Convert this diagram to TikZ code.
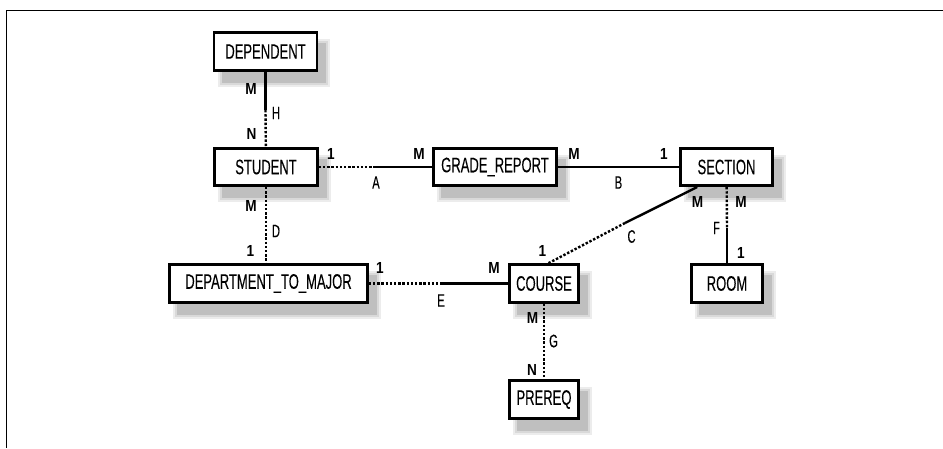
\documentclass[tikz,border=0pt]{standalone}
\usepackage{fontspec}
\setmainfont{Liberation Sans}[FakeStretch=0.62, FakeBold=0.15]
\newfontfamily\cardfont{Liberation Sans}[FakeStretch=0.85]
\usepackage{tikz}
\usetikzlibrary{positioning, calc, backgrounds}

\tikzset{
  entity/.style={draw, line width=2.6pt, fill=white, minimum height=37.5pt, inner sep=0pt,
    font=\fontsize{21}{23}\selectfont},
  solidrel/.style={line width=2.4pt},
  dotrel/.style={line width=2.4pt, dash pattern=on 2.4pt off 1.8pt},
  card/.style={font=\cardfont\bfseries\fontsize{16}{17}\selectfont, inner sep=0pt},
  relname/.style={font=\fontsize{18}{19}\selectfont, inner sep=0pt}
}

\begin{document}
\begin{tikzpicture}[x=1pt, y=-1pt]
  \useasboundingbox (0,0) rectangle (943,448);
  % Frame
  \draw[line width=1pt] (943,10) -- (6,10) -- (6,448);
  % Entities
  \node[entity, minimum width=103pt] (dependent) at (265.5,51.5) {DEPENDENT};
  \node[entity, minimum width=103pt] (student) at (266,167) {STUDENT};
  \node[entity, minimum width=123pt] (grade) at (495,167) {GRADE\_REPORT};
  \node[entity, minimum width=92pt] (section) at (726.5,167) {SECTION};
  \node[entity, minimum width=198pt] (deptmajor) at (268.5,283.5) {DEPARTMENT\_TO\_MAJOR};
  \node[entity, minimum width=69pt] (course) at (544,283.5) {COURSE};
  \node[entity, minimum width=71pt] (room) at (727,283.5) {ROOM};
  \node[entity, minimum width=69pt] (prereq) at (544,399.5) {PREREQ};
  % Shadows
  \begin{scope}[on background layer]
    \foreach \n in {dependent, student, grade, section, deptmajor, course, room, prereq} {
      \fill[gray!15] ($(\n.north east)+(12,8)$) rectangle ($(\n.south west)+(5,15)$);
      \fill[gray!30] ($(\n.north east)+(10,10)$) rectangle ($(\n.south west)+(7,13)$);
      \fill[gray!50] ($(\n.north east)+(8,12)$) rectangle ($(\n.south west)+(9,11)$);
    }
  \end{scope}
  % Switch points between solid and dotted parts
  \coordinate (hmid) at (265.5,110);
  \coordinate (amid) at (373,167);
  \coordinate (emid) at (442,283.5);
  \coordinate (cmid) at (625,223);
  \coordinate (fmid) at (727,228);
  % H
  \draw[solidrel] (dependent) -- (hmid);
  \draw[dotrel] (hmid) -- (student);
  % A
  \draw[dotrel] (student) -- (amid);
  \draw[solidrel] (amid) -- (grade);
  % B
  \draw[solidrel] (grade) -- (section);
  % D
  \draw[dotrel] (student.south) -- (student.south |- deptmajor.north);
  % E
  \draw[dotrel] (deptmajor) -- (emid);
  \draw[solidrel] (emid) -- (course);
  % C
  \draw[solidrel] ($(section.south west)!0.19!(section.south east)$) -- (cmid);
  \draw[dotrel] (cmid) -- ($(course.north)+(4,0)$);
  % F
  \draw[dotrel] (section) -- (fmid);
  \draw[solidrel] (fmid) -- (room);
  % G
  \draw[dotrel] (course) -- (prereq);
  % Cardinalities
  \node[card] (hm) at (251,88.5) {M};
  \node[card] (hn) at (251.5,134) {N};
  \node[card] (a1) at (331,153.5) {1};
  \node[card] (am) at (419,153.5) {M};
  \node[card] (bm) at (574,153.5) {M};
  \node[card] (b1) at (664,153.5) {1};
  \node[card] (dm) at (251,206) {M};
  \node[card] (d1) at (250.5,251) {1};
  \node[card] (e1) at (380,267.5) {1};
  \node[card] (em) at (494,267.5) {M};
  \node[card] (cm) at (697.5,202) {M};
  \node[card] (c1) at (542.5,251) {1};
  \node[card] (fm) at (741,202) {M};
  \node[card] (f1) at (741,252.5) {1};
  \node[card] (gm) at (532.5,317.5) {M};
  \node[card] (gn) at (532,370) {N};
  % Relationship names
  \node[relname] (hname) at (276,113) {H};
  \node[relname] (aname) at (376,182.5) {A};
  \node[relname] (bname) at (618.5,182.5) {B};
  \node[relname] (cname) at (631.5,236.5) {C};
  \node[relname] (dname) at (276,231) {D};
  \node[relname] (ename) at (441,300.5) {E};
  \node[relname] (fname) at (716.5,228) {F};
  \node[relname] (gname) at (553.5,341) {G};
\end{tikzpicture}
\end{document}
